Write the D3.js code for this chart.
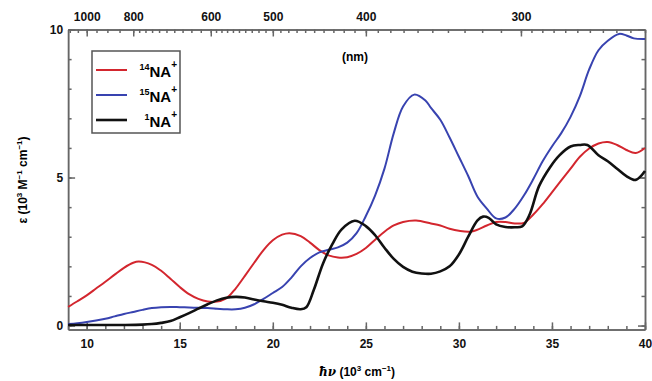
<!DOCTYPE html>
<html>
<head>
<meta charset="utf-8">
<script src="https://cdn.jsdelivr.net/npm/d3@7"></script>
<style>
  body { margin: 0; background: #fff; }
  svg { font-family: "Liberation Sans", Arial, sans-serif; font-weight: bold; }
  .axis path, .axis line { stroke: #666; stroke-width: 1.5; }
  .axis text { font-size: 12px; font-weight: bold; fill: #111; font-family: "Liberation Sans", Arial, sans-serif; }
</style>
</head>
<body>
<div class="chart"></div>
<script>
// size of the svg
var widthSVG = 652;
var heightSVG = 381;

// photon energy (10^3 cm^-1)
var x14 = [9, 9.5, 10, 10.5, 11, 11.5, 12, 12.5, 12.8, 13.5, 14, 14.5, 15, 15.5, 16, 16.5, 16.9, 17.5, 18, 18.5, 19, 19.5, 20, 20.5, 20.9, 21.5, 22, 22.5, 23, 23.5, 24, 24.5, 25, 25.5, 26, 26.5, 27, 27.7, 28.5, 29, 29.5, 30, 30.7, 31.5, 32, 32.5, 33, 33.5, 34, 34.5, 35, 35.5, 36, 36.5, 37, 37.5, 38, 38.5, 39, 39.5, 40];
var eps14 = [0.63, 0.82, 1.02, 1.25, 1.48, 1.72, 1.95, 2.12, 2.16, 2.05, 1.85, 1.58, 1.30, 1.06, 0.90, 0.81, 0.80, 0.92, 1.25, 1.68, 2.12, 2.55, 2.88, 3.07, 3.12, 3.02, 2.80, 2.55, 2.37, 2.30, 2.31, 2.42, 2.62, 2.90, 3.17, 3.38, 3.50, 3.55, 3.45, 3.38, 3.27, 3.20, 3.18, 3.38, 3.50, 3.50, 3.45, 3.47, 3.75, 4.10, 4.50, 4.90, 5.30, 5.70, 5.98, 6.15, 6.20, 6.10, 5.93, 5.83, 6.00];

var x15 = [9, 9.5, 10, 10.5, 11, 11.5, 12, 12.5, 13, 13.5, 14, 14.5, 15, 15.5, 16, 16.5, 17, 17.5, 18, 18.5, 19, 19.5, 20, 20.5, 21, 21.5, 22, 22.5, 23, 23.5, 24, 24.5, 25, 25.5, 26, 26.5, 27, 27.6, 28.2, 28.5, 29, 29.5, 30, 30.5, 31, 31.5, 32, 32.5, 33, 33.5, 34, 34.5, 35, 35.5, 36, 36.5, 37, 37.5, 38, 38.6, 39, 39.4, 40];
var eps15 = [0.05, 0.08, 0.12, 0.17, 0.23, 0.31, 0.39, 0.46, 0.53, 0.59, 0.62, 0.63, 0.62, 0.61, 0.60, 0.59, 0.57, 0.55, 0.55, 0.60, 0.72, 0.90, 1.10, 1.30, 1.62, 2.00, 2.28, 2.47, 2.56, 2.64, 2.80, 3.12, 3.70, 4.40, 5.30, 6.50, 7.40, 7.80, 7.60, 7.35, 6.95, 6.35, 5.70, 5.05, 4.35, 3.95, 3.62, 3.65, 3.95, 4.40, 4.95, 5.55, 6.05, 6.50, 7.05, 7.75, 8.65, 9.30, 9.62, 9.85, 9.80, 9.70, 9.68];

var x1 = [9, 10, 11, 12, 13, 13.5, 14, 14.5, 15, 15.5, 16, 16.5, 17, 17.5, 18, 18.5, 19, 19.5, 20, 20.5, 21, 21.5, 21.8, 22.2, 22.7, 23.2, 23.7, 24.4, 25, 25.5, 26, 26.5, 27, 27.5, 28, 28.5, 29, 29.5, 30, 30.5, 31, 31.3, 31.6, 32, 32.5, 33, 33.4, 33.8, 34.3, 34.9, 35.4, 36, 36.5, 36.9, 37.5, 38, 38.5, 39, 39.5, 40];
var eps1 = [0.02, 0.02, 0.02, 0.02, 0.03, 0.05, 0.09, 0.15, 0.28, 0.42, 0.57, 0.72, 0.85, 0.94, 0.97, 0.95, 0.88, 0.82, 0.77, 0.70, 0.60, 0.55, 0.62, 1.20, 2.10, 2.75, 3.25, 3.54, 3.36, 3.05, 2.63, 2.25, 1.98, 1.82, 1.76, 1.75, 1.83, 2.00, 2.40, 3.00, 3.55, 3.68, 3.64, 3.42, 3.33, 3.32, 3.35, 3.75, 4.70, 5.35, 5.75, 6.05, 6.10, 6.10, 5.75, 5.55, 5.30, 5.05, 4.92, 5.22];

// tick labels
var xTicks = [10, 15, 20, 25, 30, 35, 40];
var yTicks = [0, 5, 10];
var nmTicks = [1000, 800, 600, 500, 400, 300];

var cor = ['#d3262e', '#3843b0', '#111111'];
var nomes = ['14', '15', '1'];

var series = [
  { xs: x14, ys: eps14, color: cor[0], width: 2 },
  { xs: x15, ys: eps15, color: cor[1], width: 2 },
  { xs: x1, ys: eps1, color: cor[2], width: 2.6 }
];

// scales
var xScale = d3.scaleLinear().domain([9, 40]).range([68.1, 645]);
var yScale = d3.scaleLinear().domain([-0.13, 10]).range([329.4, 29.5]);

var svg = d3.select(".chart")
  .append("svg")
  .attr("width", widthSVG)
  .attr("height", heightSVG);

// plot edges (not named top/left: window.top is read only)
var plotTop = yScale.range()[1], plotBottom = yScale.range()[0];
var plotLeft = xScale.range()[0], plotRight = xScale.range()[1];

// minor ticks
var xMinor = d3.range(9, 41, 1);
var yMinor = d3.range(0, 11, 1);
// nm minor ticks, the step gets finer at short wavelength
var nmMinor = d3.range(1100, 800, -50)
  .concat(d3.range(800, 600, -20))
  .concat(d3.range(600, 300, -10))
  .concat(d3.range(300, 249, -5));
var toE = function(nm) { return 10000 / nm; };

// bottom axis
svg.append("g").attr("class", "axis")
  .attr("transform", "translate(0," + plotBottom + ")")
  .call(d3.axisBottom(xScale).tickValues(xMinor).tickSizeInner(-3.5).tickSizeOuter(0).tickFormat(""));
svg.append("g").attr("class", "axis")
  .attr("transform", "translate(0," + plotBottom + ")")
  .call(d3.axisBottom(xScale).tickValues(xTicks).tickSizeInner(-7).tickSizeOuter(0).tickPadding(10));

// top axis in nm
svg.append("g").attr("class", "axis")
  .attr("transform", "translate(0," + plotTop + ")")
  .call(d3.axisTop(xScale).tickValues(nmMinor.map(toE)).tickSizeInner(-3.5).tickSizeOuter(0).tickFormat(""));
svg.append("g").attr("class", "axis")
  .attr("transform", "translate(0," + plotTop + ")")
  .call(d3.axisTop(xScale).tickValues(nmTicks.map(toE)).tickSizeInner(-7).tickSizeOuter(0).tickPadding(9)
    .tickFormat(function(d) { return Math.round(10000 / d); }));

// left axis
svg.append("g").attr("class", "axis")
  .attr("transform", "translate(" + plotLeft + ",0)")
  .call(d3.axisLeft(yScale).tickValues(yMinor).tickSizeInner(-3.5).tickSizeOuter(0).tickFormat(""));
svg.append("g").attr("class", "axis")
  .attr("transform", "translate(" + plotLeft + ",0)")
  .call(d3.axisLeft(yScale).tickValues(yTicks).tickSizeInner(-7).tickSizeOuter(0).tickPadding(5));

// right axis
svg.append("g").attr("class", "axis")
  .attr("transform", "translate(" + plotRight + ",0)")
  .call(d3.axisRight(yScale).tickValues(yMinor).tickSizeInner(-3.5).tickSizeOuter(0).tickFormat(""));
svg.append("g").attr("class", "axis")
  .attr("transform", "translate(" + plotRight + ",0)")
  .call(d3.axisRight(yScale).tickValues(yTicks).tickSizeInner(-7).tickSizeOuter(0).tickFormat(""));

// curves
var line = d3.line()
  .x(function(d) { return xScale(d[0]); })
  .y(function(d) { return yScale(d[1]); })
  .curve(d3.curveCatmullRom.alpha(0.5));

series.forEach(function(s) {
  svg.append("path")
    .datum(d3.zip(s.xs, s.ys))
    .attr("fill", "none")
    .attr("stroke", s.color)
    .attr("stroke-width", s.width)
    .attr("stroke-linejoin", "round")
    .attr("d", line);
});

// (nm) label
svg.append("text")
  .attr("x", 355).attr("y", 61)
  .attr("text-anchor", "middle")
  .style("font-size", "12px")
  .text("(nm)");

// x axis title
var xt = svg.append("text")
  .attr("x", 357).attr("y", 376)
  .attr("text-anchor", "middle")
  .style("font-size", "12px");
xt.append("tspan").style("font-style", "italic").style("font-family", "'DejaVu Serif', serif").text("ħν");
xt.append("tspan").text("  (10");
xt.append("tspan").attr("dy", -5).style("font-size", "8px").text("3");
xt.append("tspan").attr("dy", 5).text(" cm");
xt.append("tspan").attr("dy", -5).style("font-size", "8px").text("−1");
xt.append("tspan").attr("dy", 5).text(")");

// y axis title
var yt = svg.append("text")
  .attr("text-anchor", "middle")
  .attr("transform", "translate(27,180) rotate(-90)")
  .style("font-size", "12px");
yt.append("tspan").text("ε  (10");
yt.append("tspan").attr("dy", -5).style("font-size", "8px").text("3");
yt.append("tspan").attr("dy", 5).text(" M");
yt.append("tspan").attr("dy", -5).style("font-size", "8px").text("−1");
yt.append("tspan").attr("dy", 5).text(" cm");
yt.append("tspan").attr("dy", -5).style("font-size", "8px").text("−1");
yt.append("tspan").attr("dy", 5).text(")");

// legend
var legenda = svg.append("g");
legenda.append("rect")
  .attr("x", 92).attr("y", 51)
  .attr("width", 88).attr("height", 82)
  .attr("fill", "#fff")
  .attr("stroke", "#555")
  .attr("stroke-width", 1.5);

var itens = legenda.selectAll(".legendas").data(nomes).enter()
  .append("g")
  .classed("legendas", true)
  .attr("transform", function(d, i) { return "translate(0," + (70 + i * 25) + ")"; });

itens.append("line")
  .attr("x1", 96).attr("x2", 127)
  .attr("stroke", function(d, i) { return cor[i]; })
  .attr("stroke-width", function(d, i) { return i == 2 ? 2.6 : 2; });

var rotulos = itens.append("text")
  .attr("x", 177).attr("y", 7)
  .attr("text-anchor", "end")
  .style("font-size", "15px");
rotulos.append("tspan").attr("dy", -7).style("font-size", "9px").text(function(d) { return d; });
rotulos.append("tspan").attr("dy", 7).text("NA");
rotulos.append("tspan").attr("dy", -9).style("font-size", "10px").text("+");
</script>
</body>
</html>
